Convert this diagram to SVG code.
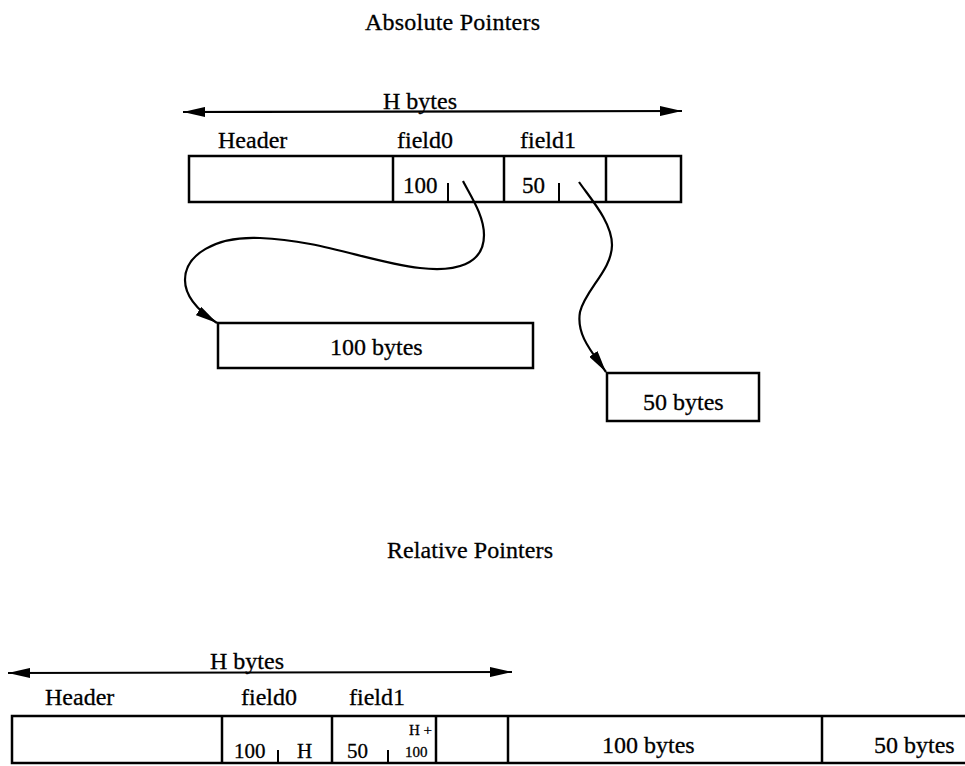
<svg xmlns="http://www.w3.org/2000/svg" width="965" height="766" viewBox="0 0 965 766">
<defs>
<style>
text{font-family:'Liberation Serif','DejaVu Serif','Times New Roman',serif;font-size:24px;fill:#000;stroke:#000;stroke-width:0.3}
.val{font-size:23px}
.val2{font-size:21px}
.small{font-size:15px}
.box{fill:none;stroke:#000;stroke-width:2.5}
.ln{fill:none;stroke:#000;stroke-width:2.2}
.tick{stroke:#000;stroke-width:2}
</style>
<marker id="ah" viewBox="0 0 22 10" refX="22" refY="5" markerWidth="22" markerHeight="10" markerUnits="userSpaceOnUse" orient="auto-start-reverse">
<path d="M0,0 L22,5 L0,10 z" fill="#000"/>
</marker>
</defs>
<rect width="965" height="766" fill="#fff"/>

<g font-family="Liberation Serif, DejaVu Serif, serif">
<text x="365" y="30" textLength="175">Absolute Pointers</text>
<text x="387" y="558" textLength="166">Relative Pointers</text>

<g id="abs-record">
<text x="383" y="109">H bytes</text>
<text x="218" y="148">Header</text>
<text x="397" y="148">field0</text>
<text x="520" y="148">field1</text>
<rect class="box" x="189" y="156" width="492" height="46"/>
<line class="box" x1="393" y1="156" x2="393" y2="202"/>
<line class="box" x1="504" y1="156" x2="504" y2="202"/>
<line class="box" x1="606" y1="156" x2="606" y2="202"/>
<text class="val" x="403" y="193">100</text>
<line class="tick" x1="448" y1="183" x2="448" y2="202"/>
<text class="val" x="522" y="193">50</text>
<line class="tick" x1="559" y1="183" x2="559" y2="202"/>
</g>

<g id="abs-100">
<rect class="box" x="218" y="323" width="315" height="45"/>
<text x="330" y="355">100 bytes</text>
</g>

<g id="abs-50">
<rect class="box" x="607" y="373" width="152" height="48"/>
<text x="643" y="410">50 bytes</text>
</g>

<g id="rel-record">
<text x="210" y="669">H bytes</text>
<text x="45" y="705">Header</text>
<text x="241" y="705">field0</text>
<text x="349" y="705">field1</text>
<path class="box" d="M968,716 L12,716 L12,763 L968,763"/>
<line class="box" x1="222" y1="716" x2="222" y2="763"/>
<line class="box" x1="332" y1="716" x2="332" y2="763"/>
<line class="box" x1="436" y1="716" x2="436" y2="763"/>
<line class="box" x1="508" y1="716" x2="508" y2="763"/>
<line class="box" x1="822" y1="716" x2="822" y2="763"/>
<text class="val2" x="234" y="758">100</text>
<line class="tick" x1="278" y1="750" x2="278" y2="763"/>
<text class="val2" x="297" y="758">H</text>
<text class="val2" x="347" y="758">50</text>
<line class="tick" x1="388" y1="750" x2="388" y2="763"/>
<text class="small" x="409" y="735">H +</text>
<text class="small" x="405" y="757">100</text>
<text x="602" y="753">100 bytes</text>
<text x="874" y="753">50 bytes</text>
</g>
</g>

<g id="connectors">
<line class="ln" x1="183" y1="112" x2="682" y2="111" marker-start="url(#ah)" marker-end="url(#ah)"/>
<line class="ln" x1="8" y1="673" x2="512" y2="672" marker-start="url(#ah)" marker-end="url(#ah)"/>
<path class="ln" d="M463,181 C470,195 484,215 484,235 C484,265 455,272 420,268 C370,262 320,240 260,238 C215,236 185,255 185,280 C185,298 200,312 217,323" marker-end="url(#ah)"/>
<path class="ln" d="M579,182 C590,198 612,222 612,245 C612,270 585,290 580,312 C576,335 592,352 606,372" marker-end="url(#ah)"/>
</g>
</svg>
